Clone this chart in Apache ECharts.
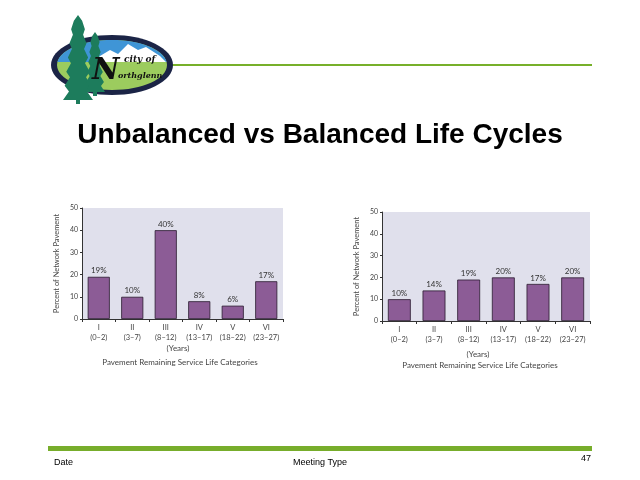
<!DOCTYPE html>
<html><head><meta charset="utf-8">
<script src="https://cdn.jsdelivr.net/npm/echarts@6/dist/echarts.min.js"></script>
<style>html,body{margin:0;padding:0;background:#fff}#c{width:640px;height:480px}</style>
</head><body><div id="c"></div>
<script>
const categories = ['I\n(0–2)', 'II\n(3–7)', 'III\n(8–12)', 'IV\n(13–17)', 'V\n(18–22)', 'VI\n(23–27)'];
const unbalancedValues = [19, 10, 40, 8, 6, 17];
const balancedValues = [10, 14, 19, 20, 17, 20];
const yTicks = [0, 10, 20, 30, 40, 50];

const chart = echarts.init(document.getElementById('c'), null, {renderer: 'canvas'});
const barColor = '#8c5c96';
const plotBg = '#e0e0ec';
const axisText = '#444';

function xAxisCfg(gi) {
  return {
    type: 'category', gridIndex: gi, data: categories,
    axisLine: {lineStyle: {color: '#333', width: 1}},
    axisTick: {show: true, lineStyle: {color: '#333'}, length: 3},
    axisLabel: {interval: 0, hideOverlap: false, fontSize: 7.5, lineHeight: 10, color: axisText, margin: 4, fontFamily: 'Lato'}
  };
}
function yAxisCfg(gi) {
  return {
    type: 'value', gridIndex: gi, min: yTicks[0], max: yTicks[yTicks.length - 1], interval: 10,
    name: 'Percent of Network Pavement', nameLocation: 'middle', nameGap: 21,
    nameTextStyle: {fontSize: 7.5, color: axisText, fontFamily: 'Lato'},
    axisLine: {show: true, lineStyle: {color: '#333'}},
    axisTick: {show: true, length: 2, lineStyle: {color: '#333'}},
    splitLine: {show: false},
    axisLabel: {fontSize: 7, color: axisText, margin: 4, fontFamily: 'Lato'}
  };
}
function seriesCfg(gi, data) {
  return {
    type: 'bar', xAxisIndex: gi, yAxisIndex: gi, data: data, barWidth: '66%',
    itemStyle: {color: barColor, borderColor: '#2a1a2e', borderWidth: 0.8},
    label: {show: true, position: 'top', formatter: '{c}%', fontSize: 8, color: '#333', distance: 2, fontFamily: 'Lato'}
  };
}

// logo helpers (decoration only)
const cx = 112, cy = 65;
function arcPts(rx, ry, a0, a1, n) {
  const p = [];
  for (let i = 0; i <= n; i++) {
    const a = a0 + (a1 - a0) * i / n;
    p.push([cx + rx * Math.cos(a), cy + ry * Math.sin(a)]);
  }
  return p;
}
const skyPts = arcPts(55, 25, Math.PI + 0.12, 2 * Math.PI - 0.12, 30);
function tree(x, top, bottom, w) {
  const layers = 6;
  const left = [], right = [];
  for (let i = 0; i < layers; i++) {
    const y0 = top + (bottom - top) * i / layers;
    const y1 = top + (bottom - top) * (i + 1) / layers;
    const ww = w * (0.35 + 0.65 * (i + 1) / layers);
    left.push([x - ww * 0.3, y0 + (y1 - y0) * 0.4]);
    left.push([x - ww / 2, y1]);
    right.push([x + ww * 0.3, y0 + (y1 - y0) * 0.4]);
    right.push([x + ww / 2, y1]);
  }
  return [[x, top]].concat(right).concat([[x + 2, bottom], [x + 2, bottom + 4], [x - 2, bottom + 4], [x - 2, bottom]]).concat(left.reverse());
}

chart.setOption({
  animation: false,
  grid: [
    {left: 82, top: 208, width: 201, height: 111, show: true, backgroundColor: plotBg, borderWidth: 0},
    {left: 382, top: 212, width: 208, height: 109, show: true, backgroundColor: plotBg, borderWidth: 0}
  ],
  xAxis: [xAxisCfg(0), xAxisCfg(1)],
  yAxis: [yAxisCfg(0), yAxisCfg(1)],
  series: [seriesCfg(0, unbalancedValues), seriesCfg(1, balancedValues)],
  graphic: [
    // top green rule
    {type: 'rect', shape: {x: 172, y: 64, width: 420, height: 2}, style: {fill: '#77b02a'}},
    // logo
    {type: 'ellipse', shape: {cx: cx, cy: cy, rx: 61, ry: 30}, style: {fill: '#1b2446'}},
    {type: 'ellipse', shape: {cx: cx, cy: cy, rx: 55, ry: 25}, style: {fill: '#9ccc5e'}},
    {type: 'polygon', shape: {points: skyPts}, style: {fill: '#3f95d6'}},
    {type: 'polygon', shape: {points: [[90, 62], [110, 50], [118, 54], [128, 44], [138, 50], [146, 47], [160, 56], [166, 62]]}, style: {fill: '#ffffff'}},
    {type: 'polygon', shape: {points: [[88, 66], [166, 66], [164, 62], [90, 62]]}, style: {fill: '#9ccc5e'}},
    {type: 'polygon', shape: {points: tree(78, 15, 100, 30)}, style: {fill: '#1d7c5c'}},
    {type: 'polygon', shape: {points: tree(95, 32, 92, 20)}, style: {fill: '#1d7c5c'}},
    {type: 'text', style: {text: 'N', x: 92, y: 86, fontSize: 30, fontStyle: 'italic', fontWeight: 'bold', fontFamily: 'DejaVu Serif', fill: '#111', textVerticalAlign: 'bottom'}},
    {type: 'text', style: {text: 'city of', x: 124, y: 60, fontSize: 9, fontStyle: 'italic', fontWeight: 'bold', fontFamily: 'DejaVu Serif', fill: '#111', textVerticalAlign: 'middle'}},
    {type: 'text', style: {text: 'orthglenn', x: 118, y: 76, fontSize: 8, fontStyle: 'italic', fontWeight: 'bold', fontFamily: 'DejaVu Serif', fill: '#111', textVerticalAlign: 'middle'}},
    // title
    {type: 'text', style: {text: 'Unbalanced vs Balanced Life Cycles', x: 320, y: 135, textAlign: 'center', textVerticalAlign: 'middle', fontSize: 28, fontWeight: 'bold', fontFamily: 'Liberation Sans', fill: '#000'}},
    // axis captions left
    {type: 'text', style: {text: '(Years)', x: 178, y: 348, textAlign: 'center', textVerticalAlign: 'middle', fontSize: 8, fontFamily: 'Lato', fill: axisText}},
    {type: 'text', style: {text: 'Pavement Remaining Service Life Categories', x: 180, y: 362, textAlign: 'center', textVerticalAlign: 'middle', fontSize: 8, fontFamily: 'Lato', fill: axisText}},
    // axis captions right
    {type: 'text', style: {text: '(Years)', x: 478, y: 354, textAlign: 'center', textVerticalAlign: 'middle', fontSize: 8, fontFamily: 'Lato', fill: axisText}},
    {type: 'text', style: {text: 'Pavement Remaining Service Life Categories', x: 480, y: 365, textAlign: 'center', textVerticalAlign: 'middle', fontSize: 8, fontFamily: 'Lato', fill: axisText}},
    // footer
    {type: 'rect', shape: {x: 48, y: 446, width: 544, height: 5}, style: {fill: '#77ad2b'}},
    {type: 'text', style: {text: 'Date', x: 54, y: 463, textVerticalAlign: 'middle', fontSize: 9, fontFamily: 'Liberation Sans', fill: '#000'}},
    {type: 'text', style: {text: 'Meeting Type', x: 320, y: 463, textAlign: 'center', textVerticalAlign: 'middle', fontSize: 9, fontFamily: 'Liberation Sans', fill: '#000'}},
    {type: 'text', style: {text: '47', x: 591, y: 459, textAlign: 'right', textVerticalAlign: 'middle', fontSize: 9, fontFamily: 'Liberation Sans', fill: '#000'}}
  ]
});
</script>
</body></html>
